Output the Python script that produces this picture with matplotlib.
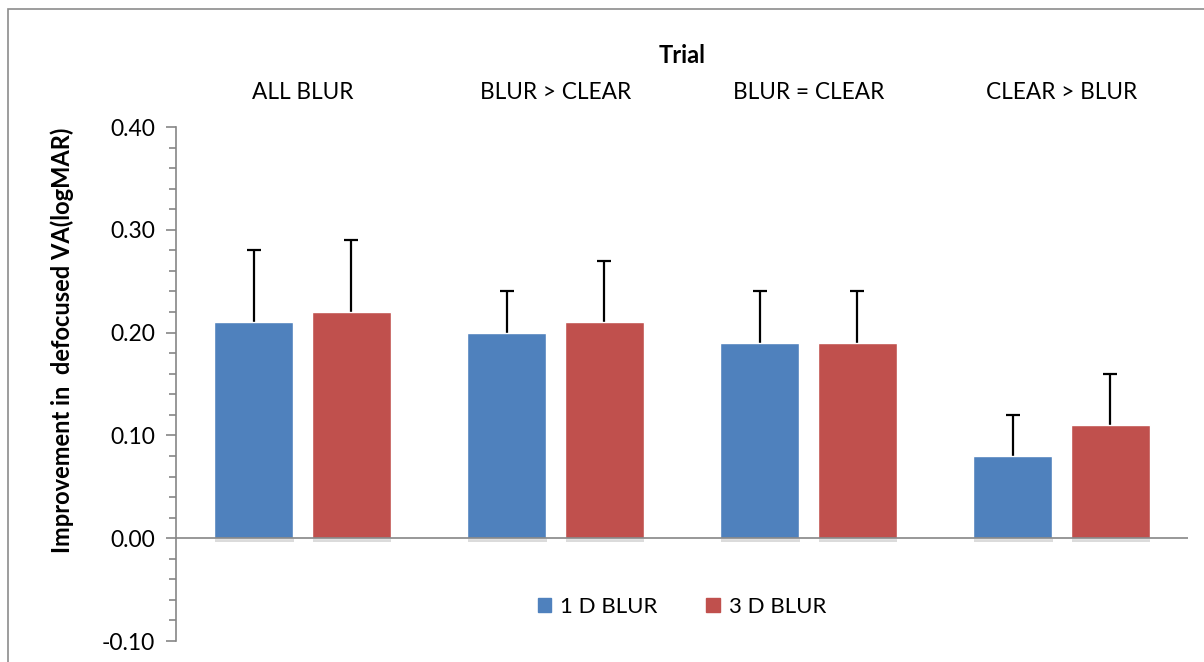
import numpy as np
import matplotlib.pyplot as plt
import matplotlib.patheffects as pe
from matplotlib.patches import Rectangle, Patch
from matplotlib.ticker import MultipleLocator

plt.rcParams['font.family'] = ['Lato', 'DejaVu Sans']

categories = ['ALL BLUR', 'BLUR > CLEAR', 'BLUR = CLEAR', 'CLEAR > BLUR']
blur1 = [0.21, 0.20, 0.19, 0.08]
blur1_err = [0.07, 0.04, 0.05, 0.04]
blur3 = [0.22, 0.21, 0.19, 0.11]
blur3_err = [0.07, 0.06, 0.05, 0.05]
series_names = ['1 D BLUR', '3 D BLUR']

blue = '#4f81bd'
red = '#c0504d'
grey = '#868686'

fig = plt.figure(figsize=(12.04, 6.62), dpi=100)
ax = fig.add_axes([176/1204, 21/662, 1012/1204, 514/662])

# outer chart border
fig.patches.append(Rectangle((8/1204, -0.1), 1.2, (653+66)/662, transform=fig.transFigure,
                             fill=False, edgecolor='#8c8c8c', lw=1.2))

x = np.arange(len(categories))
w = 0.31
off = 0.193
shadow = [pe.SimplePatchShadow(offset=(0.5, -2.5), shadow_rgbFace='#9a9a9a', alpha=0.35), pe.Normal()]
b1 = ax.bar(x - off, blur1, w, color=blue, edgecolor='white', lw=1, zorder=3)
b3 = ax.bar(x + off, blur3, w, color=red, edgecolor='white', lw=1, zorder=3)
for b in list(b1) + list(b3):
    b.set_path_effects(shadow)

# upper-only error bars
ekw = dict(fmt='none', ecolor='black', elinewidth=1.6, capsize=5, capthick=1.6, zorder=2)
for xs, vals, errs in [(x - off, blur1, blur1_err), (x + off, blur3, blur3_err)]:
    eb = ax.errorbar(xs, vals, yerr=[np.zeros(4), errs], **ekw)
    for cl in eb[1]:
        if np.allclose(cl.get_ydata(), vals):
            cl.set_visible(False)

ax.set_xlim(-0.5, 3.5)
ax.set_ylim(-0.1, 0.4)
ax.axhline(0, color=grey, lw=1.2, zorder=4)

ax.yaxis.set_minor_locator(MultipleLocator(0.02))
ax.set_yticks(np.arange(-0.1, 0.41, 0.1))
ax.set_yticklabels(['%.2f' % v for v in np.arange(-0.1, 0.41, 0.1)], fontsize=16.5)
ax.tick_params(axis='y', which='major', length=7, width=1.2, color=grey, pad=8)
ax.tick_params(axis='y', which='minor', length=5, width=1.2, color=grey)
ax.set_xticks([])
for s in ['top', 'right', 'bottom']:
    ax.spines[s].set_visible(False)
ax.spines['left'].set_color(grey)
ax.spines['left'].set_linewidth(1.2)

for i, c in enumerate(categories):
    ax.text(i, 1.068, c, transform=ax.get_xaxis_transform(), ha='center', va='center', fontsize=16.3)
ax.text(1.5, 1.14, 'Trial', transform=ax.get_xaxis_transform(), ha='center', va='center',
        fontsize=17, fontweight='bold')

fig.text(62/1204, 1 - 340/662, 'Improvement in  defocused VA(logMAR)', rotation=90,
         ha='center', va='center', fontsize=17, fontweight='bold')

handles = [Patch(color=blue), Patch(color=red)]
ax.legend(handles, series_names, loc='center', bbox_to_anchor=(0.5, 0.066), ncol=2, frameon=False,
          fontsize=16, handlelength=0.6, handleheight=0.6, handletextpad=0.4, columnspacing=2.2)

fig.savefig('out.png', dpi=100)
